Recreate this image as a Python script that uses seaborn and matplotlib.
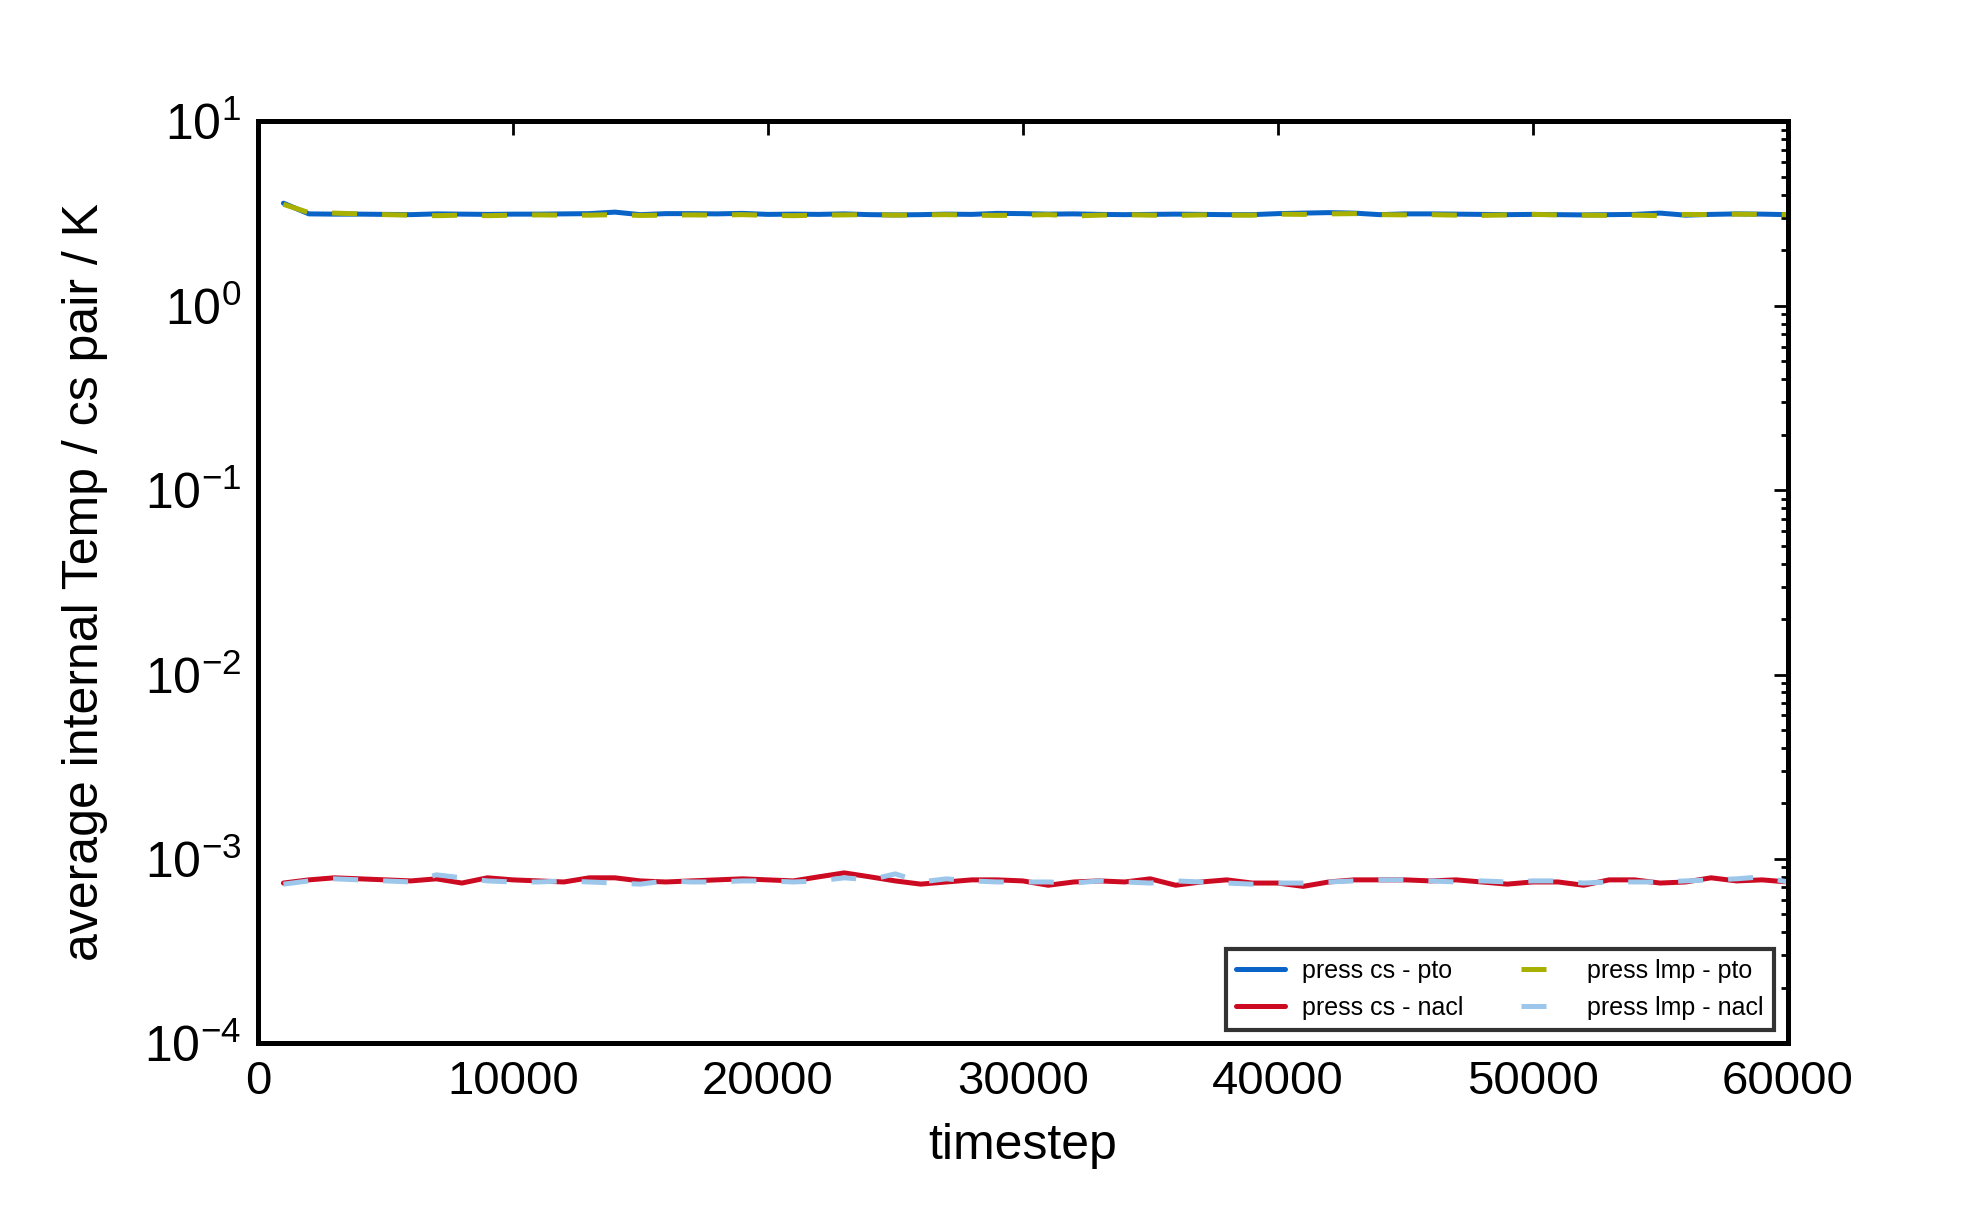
import matplotlib
matplotlib.use('Agg')
import matplotlib.pyplot as plt
import numpy as np
import pandas as pd
import seaborn as sns

sns.set_style('white')
plt.rcParams['font.family'] = ['Liberation Sans', 'DejaVu Sans']
plt.rcParams['mathtext.default'] = 'regular'
plt.rcParams['lines.scale_dashes'] = False
plt.rcParams['text.color'] = 'black'
plt.rcParams['axes.labelcolor'] = 'black'
plt.rcParams['xtick.color'] = 'black'
plt.rcParams['ytick.color'] = 'black'

timestep = list(range(1000, 61000, 1000))

cs_pto = [3.60, 3.15, 3.14, 3.14, 3.13, 3.12, 3.15, 3.14, 3.13, 3.14,
          3.14, 3.15, 3.16, 3.22, 3.12, 3.16, 3.16, 3.15, 3.17, 3.13,
          3.14, 3.13, 3.15, 3.12, 3.11, 3.12, 3.14, 3.13, 3.17, 3.16,
          3.14, 3.15, 3.13, 3.12, 3.13, 3.14, 3.13, 3.12, 3.12, 3.16,
          3.18, 3.20, 3.18, 3.12, 3.15, 3.15, 3.14, 3.13, 3.12, 3.13,
          3.12, 3.11, 3.12, 3.13, 3.18, 3.10, 3.13, 3.15, 3.14, 3.12]

lmp_pto = [3.55, 3.20, 3.18, 3.15, 3.12, 3.10, 3.08, 3.10, 3.08, 3.10,
           3.11, 3.10, 3.10, 3.12, 3.09, 3.10, 3.11, 3.10, 3.12, 3.09,
           3.08, 3.10, 3.11, 3.12, 3.10, 3.11, 3.12, 3.10, 3.09, 3.10,
           3.12, 3.07, 3.10, 3.12, 3.10, 3.09, 3.11, 3.10, 3.10, 3.14,
           3.13, 3.15, 3.16, 3.12, 3.11, 3.12, 3.10, 3.09, 3.11, 3.13,
           3.11, 3.10, 3.09, 3.10, 3.08, 3.13, 3.12, 3.14, 3.13, 3.12]

cs_nacl = [7.4, 7.7, 7.9, 7.8, 7.7, 7.6, 7.8, 7.4, 7.9, 7.7,
           7.6, 7.5, 7.9, 7.9, 7.6, 7.5, 7.6, 7.7, 7.8, 7.7,
           7.6, 8.0, 8.4, 8.0, 7.6, 7.3, 7.5, 7.7, 7.7, 7.6,
           7.2, 7.5, 7.6, 7.5, 7.8, 7.2, 7.5, 7.7, 7.4, 7.4,
           7.1, 7.5, 7.7, 7.7, 7.7, 7.6, 7.7, 7.5, 7.3, 7.5,
           7.5, 7.2, 7.7, 7.7, 7.4, 7.5, 7.9, 7.6, 7.7, 7.5]

lmp_nacl = [7.3, 7.6, 7.8, 7.7, 7.6, 7.5, 8.2, 7.9, 7.6, 7.5,
            7.5, 7.6, 7.5, 7.4, 7.3, 7.6, 7.5, 7.5, 7.6, 7.6,
            7.5, 7.6, 7.9, 7.7, 8.3, 7.5, 7.8, 7.6, 7.5, 7.5,
            7.5, 7.4, 7.6, 7.5, 7.4, 7.6, 7.5, 7.4, 7.3, 7.4,
            7.4, 7.5, 7.6, 7.7, 7.7, 7.6, 7.5, 7.6, 7.5, 7.6,
            7.6, 7.4, 7.5, 7.5, 7.5, 7.6, 7.7, 7.8, 8.0, 7.5]

cs_nacl = [v * 1e-4 for v in cs_nacl]
lmp_nacl = [v * 1e-4 for v in lmp_nacl]

fig = plt.figure(figsize=(9.92, 6.13), dpi=200)
ax = fig.add_axes([0.130, 0.149, 0.771, 0.752])

series = [
    ('press cs - pto', cs_pto, '#0a64c8', '-'),
    ('press cs - nacl', cs_nacl, '#cc0a22', '-'),
    ('press lmp - pto', lmp_pto, '#a8b000', (0, (9, 9))),
    ('press lmp - nacl', lmp_nacl, '#9cc6ea', (0, (9, 9))),
]
for label, vals, color, ls in series:
    sns.lineplot(x=timestep, y=vals, ax=ax, color=color, linewidth=1.8,
                 linestyle=ls, label=label)

ax.set_yscale('log')
ax.set_xlim(0, 60000)
ax.set_ylim(1e-4, 1e1)
ax.set_xticks(range(0, 60001, 10000))
ax.set_xlabel('timestep', fontsize=18, labelpad=7)
ax.set_ylabel('average internal Temp / cs pair / K', fontsize=18, labelpad=13)

for s in ax.spines.values():
    s.set_linewidth(1.8)
    s.set_color('black')
ax.tick_params(which='both', direction='in', top=True, right=True,
               width=1.0, color='black')
ax.tick_params(axis='x', labelsize=17)
ax.tick_params(axis='y', labelsize=18)
ax.tick_params(which='major', length=5, pad=6)
ax.tick_params(which='minor', length=2.5)
ax.grid(False)

leg = ax.legend(loc='lower right', ncol=2, fontsize=9, frameon=True,
                fancybox=False, handlelength=1.95, handletextpad=0.7,
                columnspacing=2.3, borderaxespad=0.55)
leg.get_frame().set_edgecolor('black')
leg.get_frame().set_linewidth(1.5)

fig.savefig('out.png', dpi=200, facecolor='white')
